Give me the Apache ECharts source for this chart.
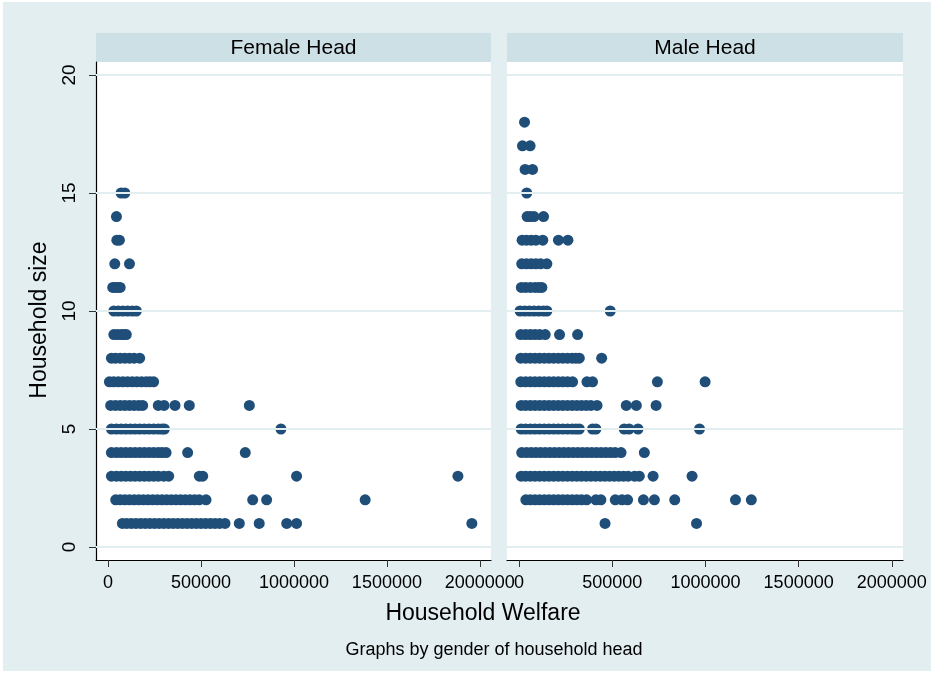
<!DOCTYPE html>
<html><head><meta charset="utf-8">
<script src="https://cdn.jsdelivr.net/npm/echarts@6/dist/echarts.min.js"></script>
<style>
html,body{margin:0;padding:0;background:#fff}
#c{width:937px;height:675px;background:#e2eef0;box-shadow:inset 3px 2px 0 #fff, inset -6px -4px 0 #fff}
</style>
</head><body><div id="c"></div>
<script>
const panelTitles = ['Female Head', 'Male Head'];
const xTicks = [0, 500000, 1000000, 1500000, 2000000];
const yTicks = [0, 5, 10, 15, 20];

// Female head: welfare values per household size (row n = size n)
const female1 = [77000,100000,125000,150000,175000,200000,225000,250000,275000,300000,325000,350000,375000,400000,425000,450000,475000,500000,525000,550000,575000,600000,629000,706000,813000,961000,1014000,1957000];
const female2 = [41000,65000,90000,115000,140000,165000,190000,215000,240000,265000,290000,315000,340000,365000,390000,415000,440000,465000,490000,527000,778000,853000,1383000];
const female3 = [18000,45000,70000,95000,120000,145000,170000,195000,220000,245000,270000,300000,326000,491000,509000,1014000,1882000];
const female4 = [18000,45000,70000,95000,120000,145000,170000,195000,220000,245000,270000,290000,312000,428000,738000];
const female5 = [18000,45000,70000,95000,120000,145000,170000,195000,220000,245000,270000,290000,303000,930000];
const female6 = [14000,40000,65000,90000,115000,140000,165000,186000,270000,301000,360000,437000,760000];
const female7 = [7000,30000,55000,80000,105000,130000,155000,180000,205000,225000,245000];
const female8 = [18000,40000,65000,90000,115000,140000,170000];
const female9 = [31000,50000,70000,85000,98000];
const female10 = [31000,55000,80000,105000,130000,152000];
const female11 = [25000,40000,52000,65000];
const female12 = [36000,115000];
const female13 = [47000,61000];
const female14 = [45000];
const female15 = [70000,90000];

// Male head
const male1 = [461000,952000];
const male2 = [36000,60000,85000,110000,135000,160000,185000,210000,235000,260000,285000,310000,335000,362000,412000,439000,516000,552000,582000,667000,726000,835000,1161000,1246000];
const male3 = [11000,35000,60000,85000,110000,135000,160000,185000,210000,235000,260000,285000,310000,335000,360000,385000,410000,435000,460000,485000,510000,535000,560000,585000,620000,645000,719000,928000];
const male4 = [14000,40000,65000,90000,115000,140000,165000,190000,215000,240000,265000,290000,315000,340000,365000,390000,415000,440000,465000,490000,515000,547000,672000];
const male5 = [11000,35000,60000,85000,110000,135000,160000,185000,210000,235000,260000,285000,305000,323000,394000,412000,564000,590000,638000,968000];
const male6 = [11000,35000,60000,85000,110000,135000,160000,185000,210000,235000,260000,285000,310000,335000,360000,385000,418000,575000,629000,735000];
const male7 = [9000,35000,60000,85000,110000,135000,160000,185000,210000,235000,260000,287000,364000,394000,742000,998000];
const male8 = [9000,35000,60000,85000,110000,135000,160000,185000,210000,235000,260000,285000,305000,323000,443000];
const male9 = [9000,35000,60000,85000,110000,140000,217000,314000];
const male10 = [5000,30000,55000,80000,105000,130000,149000,489000];
const male11 = [12000,35000,60000,85000,105000,122000];
const male12 = [14000,40000,65000,90000,115000,149000];
const male13 = [16000,40000,65000,90000,127000,211000,262000];
const male14 = [43000,60000,80000,131000];
const male15 = [41000];
const male16 = [32000,72000];
const male17 = [18000,59000];
const male18 = [29000];

const femaleRows = [female1,female2,female3,female4,female5,female6,female7,female8,female9,female10,female11,female12,female13,female14,female15];
const maleRows = [male1,male2,male3,male4,male5,male6,male7,male8,male9,male10,male11,male12,male13,male14,male15,male16,male17,male18];

function toPoints(rows){
  const pts = [];
  rows.forEach((xs, i) => xs.forEach(x => pts.push([x, i + 1])));
  return pts;
}

const FONT = '"Liberation Sans", Arial, Helvetica, sans-serif';
const MARK = '#1f4e79';
const GRIDC = '#e2eef0';

const grids = [
  {left: 96, top: 62, width: 395, height: 498},
  {left: 507, top: 62, width: 396, height: 498}
];

function xAxis(i){
  return {
    type: 'value', gridIndex: i, min: -65000, max: 2060000,
    axisLine: {show: true, onZero: false, lineStyle: {color: '#000', width: 1.2}},
    axisTick: {show: true, customValues: xTicks, length: 7, lineStyle: {color: '#333', width: 1}},
    axisLabel: {show: true, customValues: xTicks, formatter: v => String(v), color: '#000', fontSize: 18, fontFamily: FONT, margin: 14},
    splitLine: {show: false}
  };
}
function yAxis(i){
  return {
    type: 'value', gridIndex: i, min: -0.55, max: 20.55,
    axisLine: {show: i === 0, onZero: false, lineStyle: {color: '#000', width: 1.2}},
    axisTick: {show: i === 0, customValues: yTicks, length: 7, lineStyle: {color: '#333', width: 1}},
    axisLabel: {show: i === 0, customValues: yTicks, formatter: v => String(v), rotate: 90, color: '#000', fontSize: 19, fontFamily: FONT, margin: 17},
    splitLine: {show: false}
  };
}

function gridLines(i){
  return {
    type: 'scatter', xAxisIndex: i, yAxisIndex: i, data: [], z: 1, silent: true,
    markLine: {
      silent: true, symbol: ['none', 'none'], animation: false,
      label: {show: false},
      lineStyle: {color: GRIDC, width: 2, type: 'solid'},
      data: yTicks.map(v => ({yAxis: v}))
    }
  };
}

const option = {
  animation: false,
  backgroundColor: 'transparent',
  grid: grids.map(g => Object.assign({show: true, backgroundColor: '#fff', borderWidth: 0, containLabel: false}, g)),
  xAxis: [xAxis(0), xAxis(1)],
  yAxis: [yAxis(0), yAxis(1)],
  series: [
    gridLines(0), gridLines(1),
    {type: 'scatter', name: panelTitles[0], xAxisIndex: 0, yAxisIndex: 0, data: toPoints(femaleRows), symbolSize: 11, itemStyle: {color: MARK, opacity: 1}, z: 3},
    {type: 'scatter', name: panelTitles[1], xAxisIndex: 1, yAxisIndex: 1, data: toPoints(maleRows), symbolSize: 11, itemStyle: {color: MARK, opacity: 1}, z: 3}
  ],
  graphic: [
    {type: 'rect', shape: {x: 96, y: 33, width: 395, height: 29}, style: {fill: '#cde0e6'}, silent: true},
    {type: 'rect', shape: {x: 507, y: 33, width: 396, height: 29}, style: {fill: '#cde0e6'}, silent: true},
    {type: 'text', x: 293.5, y: 48, style: {text: panelTitles[0], fontSize: 21, fontFamily: FONT, fill: '#000', align: 'center', verticalAlign: 'middle'}, silent: true},
    {type: 'text', x: 705, y: 48, style: {text: panelTitles[1], fontSize: 21, fontFamily: FONT, fill: '#000', align: 'center', verticalAlign: 'middle'}, silent: true},
    {type: 'text', x: 39.5, y: 320, rotation: Math.PI / 2, style: {text: 'Household size', fontSize: 23, fontFamily: FONT, fill: '#000', align: 'center', verticalAlign: 'middle'}, silent: true},
    {type: 'text', x: 483, y: 614, style: {text: 'Household Welfare', fontSize: 23, fontFamily: FONT, fill: '#000', align: 'center', verticalAlign: 'middle'}, silent: true},
    {type: 'text', x: 494, y: 650, style: {text: 'Graphs by gender of household head', fontSize: 18, fontFamily: FONT, fill: '#000', align: 'center', verticalAlign: 'middle'}, silent: true}
  ]
};

const chart = echarts.init(document.getElementById('c'), null, {renderer: 'canvas'});
chart.setOption(option);
</script>
</body></html>
